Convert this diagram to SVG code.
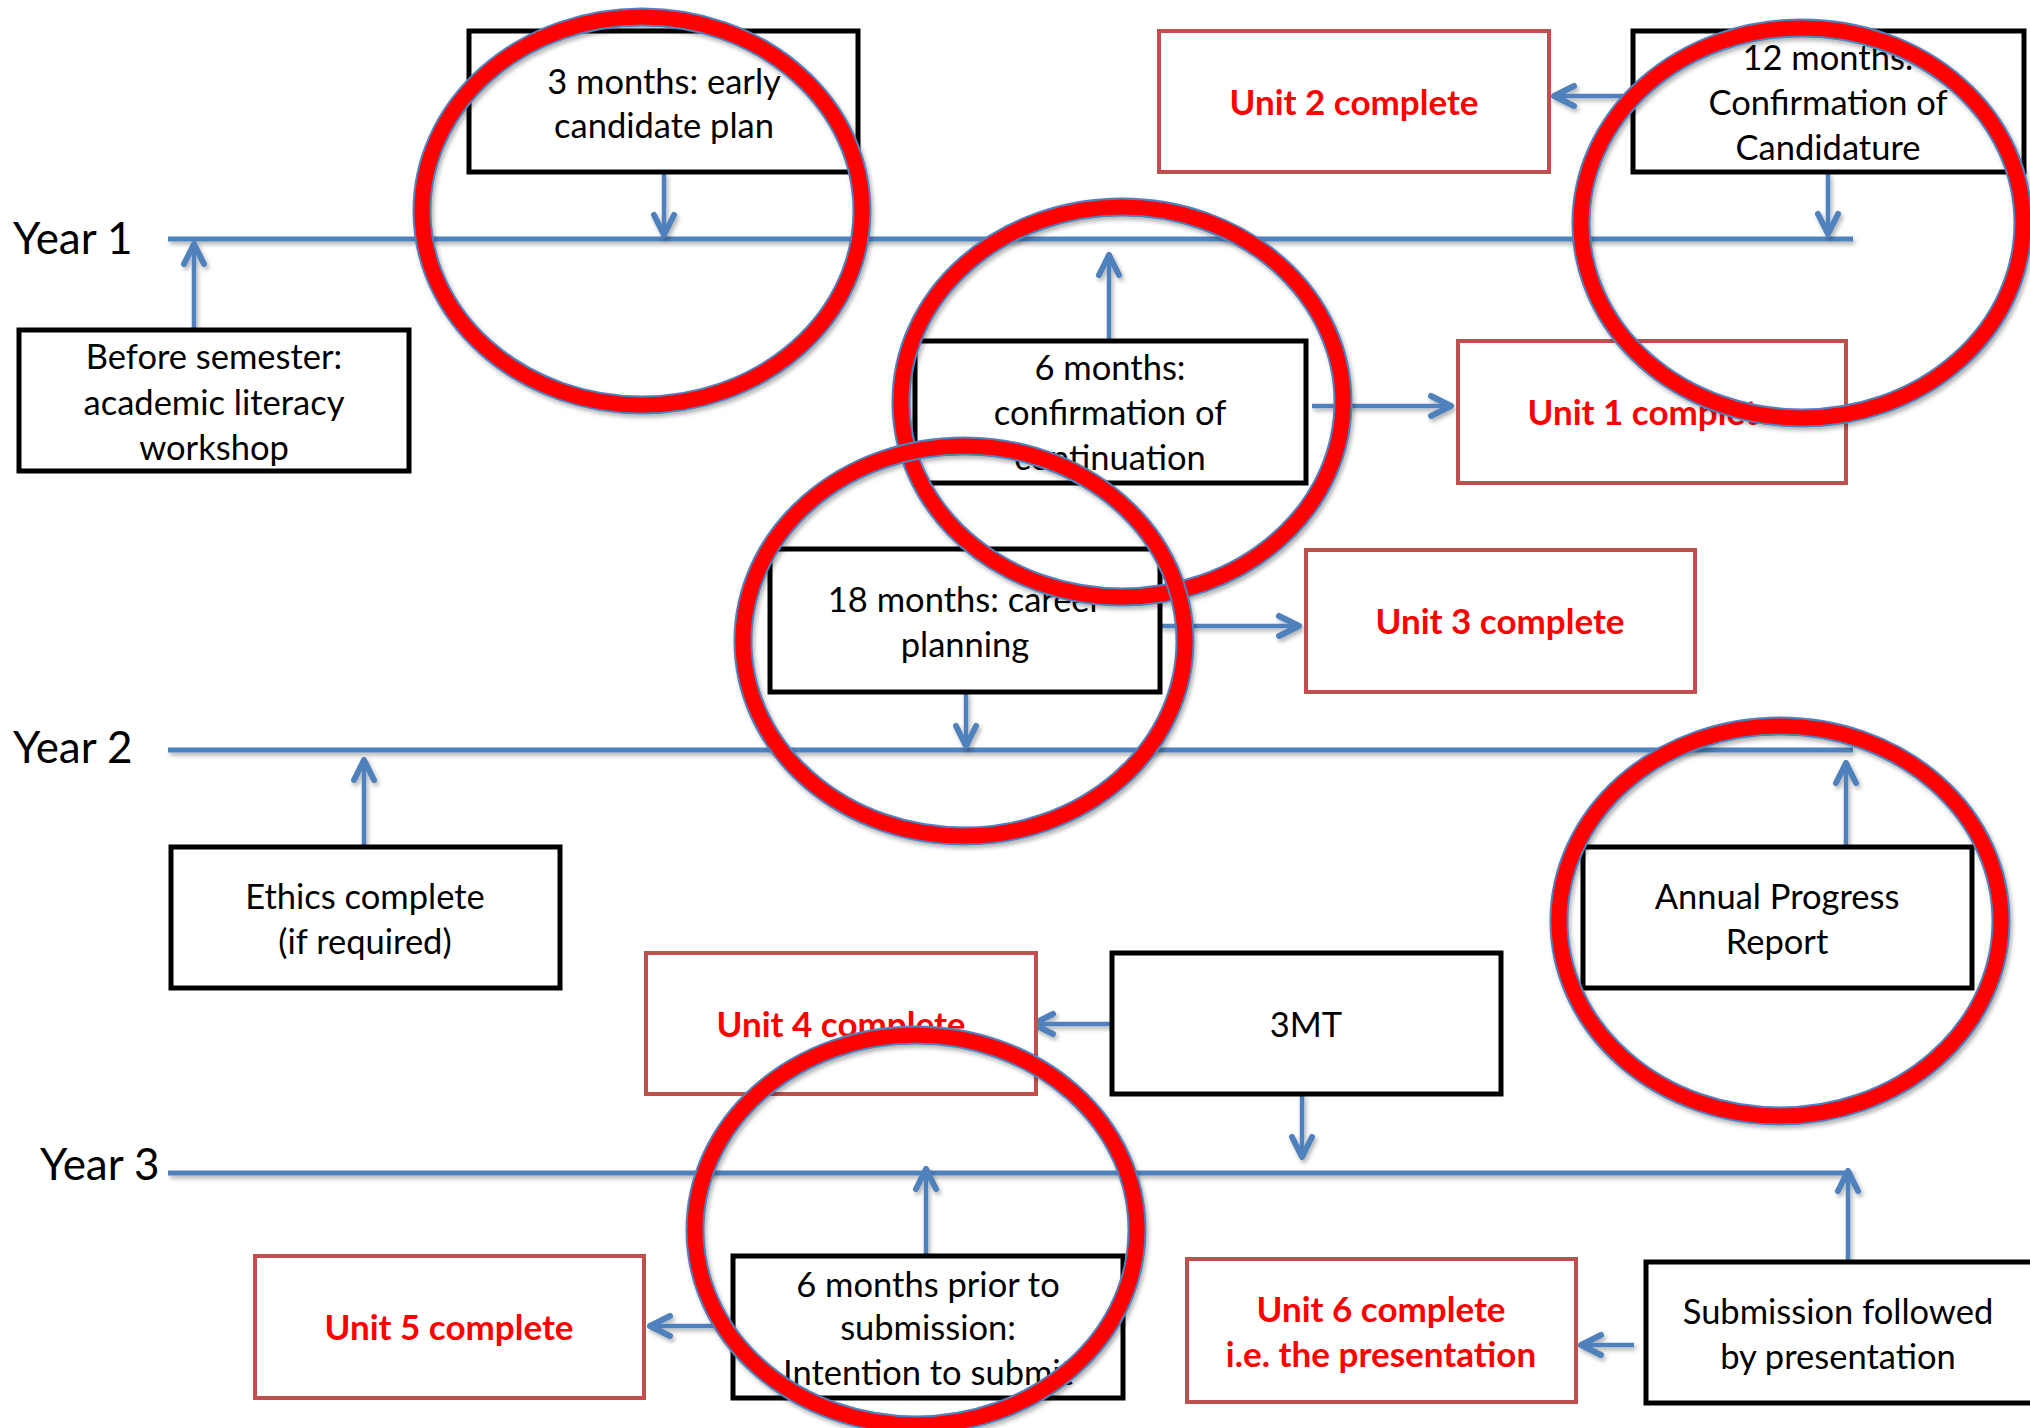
<svg xmlns="http://www.w3.org/2000/svg" width="2030" height="1428" viewBox="0 0 2030 1428">
<defs>
<style>
.box{fill:#fff;stroke:#000;stroke-width:5}
.ubox{fill:#fff;stroke:#C0504D;stroke-width:4}
.t{font-family:Lato,"Liberation Sans",sans-serif;font-size:34.5px;fill:#000;text-anchor:middle;dominant-baseline:central}
.u{font-weight:bold;fill:#FF0000;font-size:35px}
.yr{font-family:Lato,"Liberation Sans",sans-serif;font-size:44px;fill:#000}
.tl{stroke:#4F81BD;stroke-width:5;fill:none}
.c{stroke:#4F81BD;stroke-width:4.5;fill:none;marker-end:url(#ah)}
.ringb{fill:none;stroke:#4F81BD;stroke-width:19}
.ringr{fill:none;stroke:#FF0000;stroke-width:15}
</style>
<marker id="ah" markerUnits="userSpaceOnUse" viewBox="-30 -16 36 32" refX="0" refY="0" markerWidth="36" markerHeight="32" orient="auto">
<path d="M-20,-10 L0,0 L-20,10" fill="none" stroke="#4F81BD" stroke-width="6" stroke-linecap="round" stroke-linejoin="round"/>
</marker>
<filter id="sh" x="-10%" y="-10%" width="120%" height="130%">
<feDropShadow dx="2" dy="3" stdDeviation="2" flood-color="#000" flood-opacity="0.3"/>
</filter>
</defs>
<rect width="2030" height="1428" fill="#fff"/>

<g id="timelines" filter="url(#sh)">
<line class="tl" x1="168" y1="239" x2="1853" y2="239"/>
<line class="tl" x1="168" y1="750" x2="1853" y2="750"/>
<line class="tl" x1="168" y1="1173" x2="1851" y2="1173"/>
</g>
<g id="year-labels">
<text class="yr" x="13" y="254">Year 1</text>
<text class="yr" x="13" y="763">Year 2</text>
<text class="yr" x="40" y="1180">Year 3</text>
</g>

<g id="connectors" filter="url(#sh)">
<line class="c" x1="194" y1="330" x2="194" y2="244"/>
<line class="c" x1="664" y1="173" x2="664" y2="235"/>
<line class="c" x1="1633" y1="96" x2="1554" y2="96"/>
<line class="c" x1="1828" y1="173" x2="1828" y2="234"/>
<line class="c" x1="1109" y1="341" x2="1109" y2="255"/>
<line class="c" x1="1312" y1="406" x2="1451" y2="406"/>
<line class="c" x1="966" y1="692" x2="966" y2="746"/>
<line class="c" x1="1160" y1="626" x2="1299" y2="626"/>
<line class="c" x1="364" y1="847" x2="364" y2="760"/>
<line class="c" x1="1846" y1="847" x2="1846" y2="763"/>
<line class="c" x1="1112" y1="1024" x2="1033" y2="1024"/>
<line class="c" x1="1302" y1="1094" x2="1302" y2="1157"/>
<line class="c" x1="926" y1="1256" x2="926" y2="1169"/>
<line class="c" x1="733" y1="1326" x2="650" y2="1326"/>
<line class="c" x1="1848" y1="1262" x2="1848" y2="1171"/>
<line class="c" x1="1634" y1="1345" x2="1581" y2="1345"/>
</g>

<g id="n-before-semester">
<rect class="box" x="19" y="330" width="390" height="141"/>
<text class="t" x="214" y="355">Before semester:</text>
<text class="t" x="214" y="401">academic literacy</text>
<text class="t" x="214" y="446">workshop</text>
</g>
<g id="n-3-months">
<rect class="box" x="469" y="31" width="389" height="141"/>
<text class="t" x="664" y="80">3 months: early</text>
<text class="t" x="664" y="124">candidate plan</text>
</g>
<g id="n-unit2">
<rect class="ubox" x="1159" y="31" width="390" height="141"/>
<text class="t u" x="1354" y="101">Unit 2 complete</text>
</g>
<g id="n-12-months">
<rect class="box" x="1633" y="31" width="391" height="141"/>
<text class="t" x="1828" y="56">12 months:</text>
<text class="t" x="1828" y="101">Confirmation of</text>
<text class="t" x="1828" y="146">Candidature</text>
</g>
<g id="n-6-months">
<rect class="box" x="915" y="341" width="391" height="142"/>
<text class="t" x="1110" y="366">6 months:</text>
<text class="t" x="1110" y="411">confirmation of</text>
<text class="t" x="1110" y="456">continuation</text>
</g>
<g id="n-unit1">
<rect class="ubox" x="1458" y="341" width="388" height="142"/>
<text class="t u" x="1652" y="411">Unit 1 complete</text>
</g>
<g id="n-18-months">
<rect class="box" x="770" y="549" width="390" height="143"/>
<text class="t" x="965" y="598">18 months: career</text>
<text class="t" x="965" y="643">planning</text>
</g>
<g id="n-unit3">
<rect class="ubox" x="1306" y="550" width="389" height="142"/>
<text class="t u" x="1500" y="620">Unit 3 complete</text>
</g>
<g id="n-ethics">
<rect class="box" x="171" y="847" width="389" height="141"/>
<text class="t" x="365" y="895">Ethics complete</text>
<text class="t" x="365" y="940">(if required)</text>
</g>
<g id="n-annual">
<rect class="box" x="1583" y="847" width="389" height="141"/>
<text class="t" x="1777" y="895">Annual Progress</text>
<text class="t" x="1777" y="940">Report</text>
</g>
<g id="n-unit4">
<rect class="ubox" x="646" y="953" width="390" height="141"/>
<text class="t u" x="841" y="1023">Unit 4 complete</text>
</g>
<g id="n-3mt">
<rect class="box" x="1112" y="953" width="389" height="141"/>
<text class="t" x="1306" y="1023">3MT</text>
</g>
<g id="n-6-months-prior">
<rect class="box" x="733" y="1256" width="390" height="142"/>
<text class="t" x="928" y="1283">6 months prior to</text>
<text class="t" x="928" y="1326">submission:</text>
<text class="t" x="928" y="1371">Intention to submit</text>
</g>
<g id="n-unit5">
<rect class="ubox" x="255" y="1256" width="389" height="142"/>
<text class="t u" x="449" y="1326">Unit 5 complete</text>
</g>
<g id="n-unit6">
<rect class="ubox" x="1187" y="1259" width="389" height="143"/>
<text class="t u" x="1381" y="1308">Unit 6 complete</text>
<text class="t u" x="1381" y="1353">i.e. the presentation</text>
</g>
<g id="n-submission">
<rect class="box" x="1646" y="1262" width="388" height="141"/>
<text class="t" x="1838" y="1310">Submission followed</text>
<text class="t" x="1838" y="1355">by presentation</text>
</g>

<g id="highlight-rings" filter="url(#sh)">
<g id="ring-1"><ellipse class="ringb" cx="642" cy="211" rx="220" ry="194"/><ellipse class="ringr" cx="642" cy="211" rx="220" ry="194"/></g>
<g id="ring-2"><ellipse class="ringb" cx="1802" cy="223" rx="221" ry="195"/><ellipse class="ringr" cx="1802" cy="223" rx="221" ry="195"/></g>
<g id="ring-3"><ellipse class="ringb" cx="1122" cy="402" rx="221" ry="195"/><ellipse class="ringr" cx="1122" cy="402" rx="221" ry="195"/></g>
<g id="ring-4"><ellipse class="ringb" cx="964" cy="641" rx="221" ry="195"/><ellipse class="ringr" cx="964" cy="641" rx="221" ry="195"/></g>
<g id="ring-5"><ellipse class="ringb" cx="1780" cy="921" rx="221" ry="195"/><ellipse class="ringr" cx="1780" cy="921" rx="221" ry="195"/></g>
<g id="ring-6"><ellipse class="ringb" cx="916" cy="1230" rx="221" ry="195"/><ellipse class="ringr" cx="916" cy="1230" rx="221" ry="195"/></g>
</g>
</svg>
